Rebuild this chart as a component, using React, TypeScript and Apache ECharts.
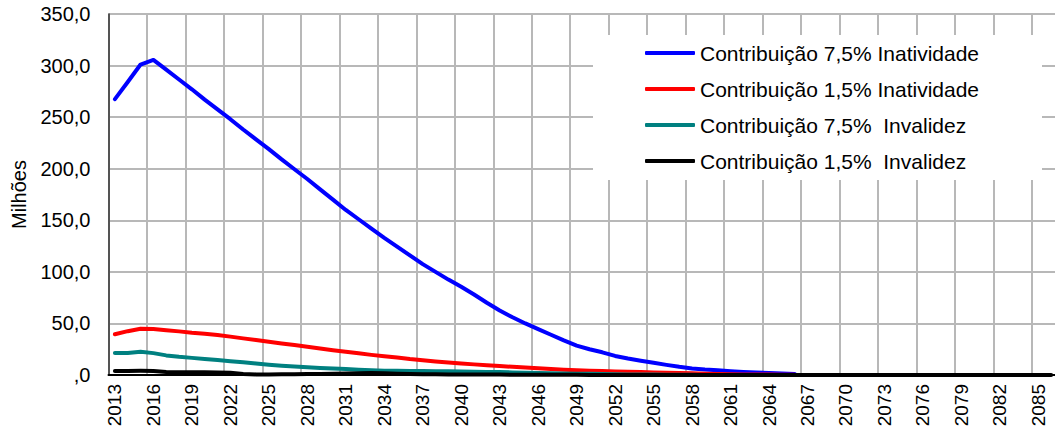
import React, { useEffect, useRef } from "react";
import * as echarts from "echarts";

const years = [
  "2013","2014","2015","2016","2017","2018","2019","2020","2021","2022",
  "2023","2024","2025","2026","2027","2028","2029","2030","2031","2032",
  "2033","2034","2035","2036","2037","2038","2039","2040","2041","2042",
  "2043","2044","2045","2046","2047","2048","2049","2050","2051","2052",
  "2053","2054","2055","2056","2057","2058","2059","2060","2061","2062",
  "2063","2064","2065","2066","2067","2068","2069","2070","2071","2072",
  "2073","2074","2075","2076","2077","2078","2079","2080","2081","2082",
  "2083","2084","2085","2086",
];

const seriesNames = [
  "Contribuição 7,5% Inatividade",
  "Contribuição 1,5% Inatividade",
  "Contribuição 7,5%  Invalidez",
  "Contribuição 1,5%  Invalidez",
];

const seriesColors = ["#0000FF", "#FF0000", "#008080", "#000000"];

const contrib75Inatividade = [
  267.5, 284, 301, 305.5, 296, 286.5, 277, 267, 257.5, 248,
  238, 228.5, 219, 209, 199.5, 190, 180, 170, 160, 151,
  142, 133, 124.5, 116, 107.5, 100, 92.5, 85.5, 78, 70,
  62.5, 56, 50, 44.5, 39, 33.5, 28.5, 25, 22, 18.5,
  16, 13.8, 11.8, 9.8, 7.9, 6.4, 5.3, 4.5, 3.7, 3.0,
  2.5, 2.0, 1.5, 1.0,
];

const contrib15Inatividade = [
  39.5, 42.5, 44.8, 44.6, 43.5, 42.3, 41, 40, 38.8, 37.2,
  35.5, 34, 32.2, 30.5, 29, 27.3, 25.6, 24, 22.5, 21,
  19.5, 18.2, 17, 15.5, 14.3, 13.2, 12.2, 11.2, 10.3, 9.5,
  8.7, 7.9, 7.2, 6.5, 5.8, 5.1, 4.6, 4.2, 3.8, 3.4,
  3.1, 2.8, 2.5, 2.2, 1.9, 1.6, 1.3, 1.0, 0.8, 0.6,
  0.5, 0.4, 0.3, 0.2,
];

const contrib75Invalidez = [
  21.3, 21.4, 22.5, 21.2, 19, 17.6, 16.6, 15.6, 14.5, 13.4,
  12.3, 11.2, 10.0, 9.0, 8.2, 7.5, 6.9, 6.3, 5.7, 5.1,
  4.6, 4.2, 4.0, 3.9, 3.8, 3.7, 3.6, 3.4, 3.2, 3.0,
  2.8, 2.5, 2.2, 2.0, 1.7, 1.5, 1.3, 1.1, 0.9, 0.8,
  0.6, 0.5, 0.4, 0.3, 0.2, 0.2, 0.1, 0.1,
];

const contrib15Invalidez = [
  3.8, 3.9, 4.0, 3.9, 3.0, 2.7, 2.6, 2.6, 2.5, 2.3,
  1.0, 0.6, 0.6, 0.7, 0.8, 0.9, 1.0, 1.2, 1.5, 1.8,
  2.0, 1.6, 1.2, 1.0, 0.8, 0.7, 0.6, 0.5, 0.5, 0.4,
  0.4, 0.3, 0.3, 0.3, 0.2, 0.2, 0.2, 0.1, 0.1, 0.1,
  0.1, 0.1, 0, 0, 0, 0, 0, 0, 0, 0,
  0, 0, 0, 0, 0, 0, 0, 0, 0, 0,
  0, 0, 0, 0, 0, 0, 0, 0, 0, 0,
  0, 0, 0, 0,
];

const allSeries = [contrib75Inatividade, contrib15Inatividade, contrib75Invalidez, contrib15Invalidez];

const FONT = "'Liberation Sans', Arial, sans-serif";

export default function App() {
  const ref = useRef<HTMLDivElement>(null);

  useEffect(() => {
    const chart = echarts.init(ref.current!, null, { renderer: "svg" });
    chart.setOption({
      animation: false,
      backgroundColor: "#ffffff",
      textStyle: { fontFamily: FONT },
      grid: {
        left: 108.5,
        top: 14,
        right: -2.6,
        bottom: 59,
        containLabel: false,
        outerBoundsMode: "none",
      },
      graphic: [
        {
          type: "rect",
          z: 1,
          shape: { x: 593, y: 35, width: 449, height: 145 },
          style: { fill: "#ffffff" },
        },
      ],
      legend: {
        orient: "vertical",
        left: 593,
        top: 35,
        padding: [7, 0, 9, 52],
        itemGap: 14,
        itemWidth: 50,
        itemHeight: 4,
        icon: "roundRect",
        data: seriesNames,
        textStyle: {
          fontFamily: FONT,
          fontSize: 21,
          lineHeight: 22,
          color: "#000",
        },
      },
      xAxis: {
        type: "category",
        data: years,
        boundaryGap: true,
        axisLine: { show: true, lineStyle: { color: "#000", width: 2 } },
        axisTick: { show: false, interval: 2 },
        axisLabel: {
          interval: 2,
          rotate: 90,
          fontSize: 19,
          color: "#000",
          fontFamily: FONT,
          margin: 9,
        },
        splitLine: {
          show: true,
          interval: 2,
          lineStyle: { color: "#b8b8b8", width: 2 },
        },
      },
      yAxis: {
        type: "value",
        min: 0,
        max: 350,
        interval: 50,
        name: "Milhões",
        nameLocation: "middle",
        nameRotate: 90,
        nameGap: 80,
        nameTextStyle: { fontSize: 20, color: "#000", fontFamily: FONT },
        axisLine: { show: true, lineStyle: { color: "#333", width: 1.5 } },
        axisTick: { show: false },
        axisLabel: {
          fontSize: 20,
          color: "#000",
          fontFamily: FONT,
          margin: 18,
          formatter: (v: number) => (v === 0 ? ",0" : v.toFixed(1).replace(".", ",")),
        },
        splitLine: { show: true, lineStyle: { color: "#b8b8b8", width: 2 } },
      },
      series: allSeries.map((d, i) => ({
        name: seriesNames[i],
        type: "line",
        data: d,
        showSymbol: false,
        symbol: "none",
        color: seriesColors[i],
        lineStyle: { color: seriesColors[i], width: 4, cap: "round", join: "round" },
        z: 2 + i,
      })),
    });
    return () => chart.dispose();
  }, []);

  return (
    <div
      ref={ref}
      style={{ position: "absolute", left: 0, top: 0, width: 1055, height: 434, background: "#fff" }}
    />
  );
}
